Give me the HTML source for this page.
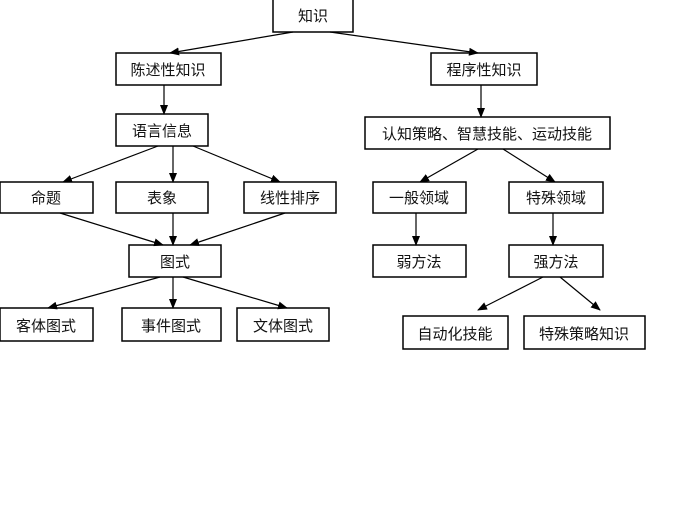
<!DOCTYPE html>
<html><head><meta charset="utf-8"><style>
html,body{margin:0;padding:0;background:#fff;width:700px;height:525px;overflow:hidden}
svg text{font-family:"Liberation Sans","Noto Sans CJK SC",sans-serif;font-size:15px;fill:#111}
</style></head><body>
<svg width="700" height="525" xmlns="http://www.w3.org/2000/svg">
<defs><marker id="a" markerWidth="10" markerHeight="8" refX="9" refY="4" orient="auto" markerUnits="userSpaceOnUse"><path d="M0,0 L10,4 L0,8 z" fill="#000"/></marker></defs>
<g fill="#fff" stroke="#000" stroke-width="1.5">
<rect x="273" y="-1" width="80" height="33"/>
<rect x="116" y="53" width="105" height="32"/>
<rect x="116" y="114" width="92" height="32"/>
<rect x="0" y="182" width="93" height="31"/>
<rect x="116" y="182" width="92" height="31"/>
<rect x="244" y="182" width="92" height="31"/>
<rect x="129" y="245" width="92" height="32"/>
<rect x="0" y="308" width="93" height="33"/>
<rect x="122" y="308" width="99" height="33"/>
<rect x="237" y="308" width="92" height="33"/>
<rect x="431" y="53" width="106" height="32"/>
<rect x="365" y="117" width="245" height="32"/>
<rect x="373" y="182" width="93" height="31"/>
<rect x="509" y="182" width="94" height="31"/>
<rect x="373" y="245" width="93" height="32"/>
<rect x="509" y="245" width="94" height="32"/>
<rect x="403" y="316" width="105" height="33"/>
<rect x="524" y="316" width="121" height="33"/>
</g>
<g stroke="#000" stroke-width="1.2" marker-end="url(#a)">
<line x1="293" y1="32" x2="170" y2="53"/>
<line x1="330" y1="32" x2="478" y2="53"/>
<line x1="164" y1="85" x2="164" y2="114"/>
<line x1="158" y1="146" x2="63" y2="182"/>
<line x1="173" y1="146" x2="173" y2="182"/>
<line x1="193" y1="146" x2="280" y2="182"/>
<line x1="60" y1="213" x2="163" y2="245"/>
<line x1="173" y1="213" x2="173" y2="245"/>
<line x1="285" y1="213" x2="190" y2="245"/>
<line x1="160" y1="277" x2="48" y2="308"/>
<line x1="173" y1="277" x2="173" y2="308"/>
<line x1="183" y1="277" x2="287" y2="308"/>
<line x1="481" y1="85" x2="481" y2="117"/>
<line x1="478" y1="149" x2="420" y2="182"/>
<line x1="503" y1="149" x2="555" y2="182"/>
<line x1="416" y1="213" x2="416" y2="245"/>
<line x1="553" y1="213" x2="553" y2="245"/>
<line x1="543" y1="277" x2="478" y2="310"/>
<line x1="560" y1="277" x2="600" y2="310"/>
</g>
<g text-anchor="middle">
<text x="313" y="21">知识</text>
<text x="168" y="75">陈述性知识</text>
<text x="162" y="136">语言信息</text>
<text x="46" y="203">命题</text>
<text x="162" y="203">表象</text>
<text x="290" y="203">线性排序</text>
<text x="175" y="267">图式</text>
<text x="46" y="331">客体图式</text>
<text x="171" y="331">事件图式</text>
<text x="283" y="331">文体图式</text>
<text x="484" y="75">程序性知识</text>
<text x="487" y="139">认知策略、智慧技能、运动技能</text>
<text x="419" y="203">一般领域</text>
<text x="556" y="203">特殊领域</text>
<text x="419" y="267">弱方法</text>
<text x="556" y="267">强方法</text>
<text x="455" y="339">自动化技能</text>
<text x="584" y="339">特殊策略知识</text>
</g>
</svg>
</body></html>
